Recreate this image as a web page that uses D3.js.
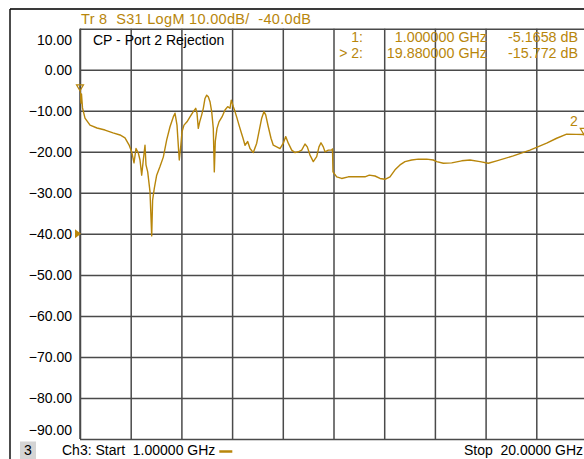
<!DOCTYPE html>
<html>
<head>
<meta charset="utf-8">
<script src="https://cdn.jsdelivr.net/npm/d3@7"></script>
<style>
  html, body { margin: 0; padding: 0; background: #fff; }
  svg { display: block; font-family: "Liberation Sans", Arial, sans-serif; }
  svg text { white-space: pre; }
</style>
</head>
<body>
<svg id="chart" width="584" height="459"></svg>
<script>
// S31 sweep, Ch3: 1 GHz .. 20 GHz, LogM 10 dB/div, ref -40 dB
const freqGHz = [
  1.000, 1.019, 1.037, 1.056, 1.094, 1.187, 1.375, 1.637, 1.937, 2.237,
  2.499, 2.686, 2.836, 2.937, 3.024, 3.099, 3.185, 3.249, 3.312, 3.372,
  3.436, 3.473, 3.537, 3.623, 3.687, 3.721, 3.784, 3.874, 3.998, 4.122,
  4.249, 4.373, 4.496, 4.560, 4.635, 4.699, 4.721, 4.774, 4.822, 4.897,
  5.010, 5.122, 5.246, 5.336, 5.385, 5.433, 5.486, 5.561, 5.621, 5.684,
  5.748, 5.808, 5.872, 5.935, 5.995, 6.033, 6.070, 6.134, 6.209, 6.321,
  6.434, 6.535, 6.621, 6.670, 6.745, 6.809, 6.884, 6.959, 7.034, 7.109,
  7.184, 7.285, 7.371, 7.495, 7.622, 7.708, 7.809, 7.895, 7.959, 8.056,
  8.158, 8.244, 8.371, 8.495, 8.619, 8.709, 8.806, 8.934, 9.057, 9.181,
  9.308, 9.432, 9.518, 9.619, 9.743, 9.870, 9.956, 10.031, 10.118, 10.181,
  10.305, 10.425, 10.462, 10.481, 10.620, 10.807, 11.055, 11.369, 11.680, 11.842,
  12.055, 12.243, 12.430, 12.617, 12.805, 12.992, 13.179, 13.430, 13.678, 13.992,
  14.240, 14.367, 14.615, 14.929, 15.304, 15.615, 15.990, 16.301, 16.616, 17.238,
  17.863, 18.489, 18.864, 19.238, 19.600, 19.880, 20.000
];
const s31dB = [
  -5.17, -6.4, -8.1, -5.9, -9.3, -11.8, -13.5, -14.2, -14.7, -15.4,
  -15.9, -16.6, -18.3, -20.0, -22.7, -19.2, -20.3, -22.0, -25.7, -22.0,
  -18.4, -23.2, -24.9, -29.7, -40.5, -31.8, -28.9, -25.7, -23.6, -21.3,
  -17.1, -13.9, -11.5, -10.6, -13.5, -20.0, -22.0, -18.8, -15.1, -13.5,
  -12.7, -11.5, -10.2, -9.4, -10.6, -14.3, -12.7, -11.0, -9.4, -7.0,
  -6.2, -6.6, -7.8, -10.2, -14.3, -24.9, -17.5, -14.3, -12.7, -11.5,
  -9.8, -9.0, -9.4, -7.4, -9.0, -10.2, -11.8, -13.5, -15.1, -16.7,
  -18.4, -17.5, -19.2, -20.2, -17.9, -15.1, -11.8, -10.2, -11.0, -13.9,
  -16.7, -18.4, -18.8, -19.2, -17.9, -16.3, -17.9, -19.6, -20.2, -20.0,
  -19.6, -18.1, -18.8, -20.8, -22.4, -21.2, -18.8, -17.8, -18.8, -20.0,
  -19.6, -19.6, -19.3, -24.9, -26.1, -26.5, -26.1, -26.1, -26.1, -25.7,
  -25.9, -26.5, -26.7, -26.1, -24.4, -23.2, -22.4, -22.0, -21.8, -21.8,
  -22.0, -22.4, -22.8, -22.7, -22.2, -22.0, -22.4, -22.8, -22.2, -21.0,
  -19.6, -17.9, -16.7, -15.7, -15.75, -15.772, -15.76
];

// Axis settings and annotation text
const yTicks = [10, 0, -10, -20, -30, -40, -50, -60, -70, -80, -90];
const xStart = 1, xStop = 20, xDivisions = 10;
const refLevel = -40;
const traceTitle = "Tr 8  S31 LogM 10.00dB/  -40.0dB";
const traceName = "CP - Port 2 Rejection";
const markerIds = ["1", "2"];
const markerFreq = [1.0, 19.88];
const markerDB = [-5.1658, -15.772];
const markerPrefix = ["1:", "> 2:"];
const markerFreqText = ["1.000000 GHz", "19.880000 GHz"];
const markerValText = ["-5.1658 dB", "-15.772 dB"];
const channelText = "Ch3: Start  1.00000 GHz";
const stopText = "Stop  20.0000 GHz";
const channelNum = "3";

const traceColor = "#B8860B";
const gridColor = "#4a4a4a";

const svg = d3.select("#chart");
const W = 584;
const plotL = 80, plotR = 587, plotT = 28.7, plotB = 439;

const x = d3.scaleLinear().domain([xStart, xStop]).range([plotL, plotR]);
const y = d3.scaleLinear().domain([-90, 10]).range([plotB, plotT]);

// outer frame
svg.append("line").attr("x1", 10).attr("x2", W).attr("y1", 9).attr("y2", 9)
  .attr("stroke", "#3a3a3a").attr("stroke-width", 2);
svg.append("line").attr("x1", 10).attr("x2", 10).attr("y1", 9).attr("y2", 459)
  .attr("stroke", "#111").attr("stroke-width", 1.5);

// grid: vertical divisions
const xGridVals = d3.range(xDivisions + 1).map(i => xStart + i * (xStop - xStart) / xDivisions);
const xGrid = svg.append("g").attr("transform", `translate(0,${plotB})`)
  .call(d3.axisBottom(x).tickValues(xGridVals).tickSize(-(plotB - plotT)).tickFormat(""));
xGrid.select(".domain").remove();
xGrid.selectAll(".tick line").attr("stroke", gridColor).attr("stroke-width", 1.5);

// grid: horizontal divisions with dB labels
const yAxis = svg.append("g").attr("transform", `translate(${plotL},0)`)
  .call(d3.axisLeft(y).tickValues(yTicks).tickSize(-(plotR - plotL)).tickPadding(8)
    .tickFormat(d3.format(".2f")));
yAxis.select(".domain").remove();
yAxis.selectAll(".tick line").attr("stroke", gridColor).attr("stroke-width", 1.5);
yAxis.selectAll(".tick text")
  .attr("fill", "#000").attr("font-size", 14)
  .attr("font-family", "Liberation Sans, Arial, sans-serif")
  .attr("x", -8)
  .attr("dy", d => d === 10 ? "1.1em" : d === -90 ? "-0.3em" : "0.35em");
svg.append("line").attr("x1", plotL).attr("x2", plotL).attr("y1", plotT).attr("y2", plotB)
  .attr("stroke", gridColor).attr("stroke-width", 1.5);

// reference level arrow
svg.append("path")
  .attr("d", `M${plotL - 5},${y(refLevel) - 4.5} L${plotL + 1},${y(refLevel)} L${plotL - 5},${y(refLevel) + 4.5} Z`)
  .attr("fill", traceColor);

// trace
svg.append("clipPath").attr("id", "plotClip").append("rect")
  .attr("x", plotL).attr("y", plotT).attr("width", plotR - plotL).attr("height", plotB - plotT);
const pts = freqGHz.map((f, i) => [f, s31dB[i]]);
svg.append("path").datum(pts)
  .attr("clip-path", "url(#plotClip)")
  .attr("fill", "none").attr("stroke", traceColor).attr("stroke-width", 1.4)
  .attr("stroke-linejoin", "round")
  .attr("d", d3.line().x(d => x(d[0])).y(d => y(d[1])));

// markers (label kept inside the visible area)
markerIds.forEach((id, i) => {
  const mx = x(markerFreq[i]), my = y(markerDB[i]);
  svg.append("path")
    .attr("d", `M${mx - 3.5},${my - 6} L${mx + 3.5},${my - 6} L${mx},${my} Z`)
    .attr("fill", "none").attr("stroke", traceColor).attr("stroke-width", 1.2);
  if (i === 1) {
    svg.append("text").attr("x", Math.min(mx, W - 10)).attr("y", my - 8).attr("text-anchor", "middle")
      .attr("font-size", 14).attr("fill", traceColor).text(id);
  }
});

// header text
svg.append("text").attr("x", 81).attr("y", 23.5).attr("font-size", 14.5)
  .attr("fill", traceColor).attr("textLength", 230).attr("lengthAdjust", "spacing")
  .text(traceTitle);
svg.append("text").attr("x", 93).attr("y", 45).attr("font-size", 14)
  .attr("fill", "#000").text(traceName);

// marker readout
const rowY = [41.5, 58];
markerPrefix.forEach((p, i) => {
  svg.append("text").attr("x", 363).attr("y", rowY[i]).attr("text-anchor", "end")
    .attr("font-size", 14).attr("fill", traceColor).text(p);
  svg.append("text").attr("x", 487).attr("y", rowY[i]).attr("text-anchor", "end")
    .attr("font-size", 14.3).attr("fill", traceColor).text(markerFreqText[i]);
  svg.append("text").attr("x", 578).attr("y", rowY[i]).attr("text-anchor", "end")
    .attr("font-size", 14.3).attr("fill", traceColor).text(markerValText[i]);
});

// footer
svg.append("rect").attr("x", 20).attr("y", 441.5).attr("width", 16).attr("height", 17.5)
  .attr("fill", "#d4d4d4");
svg.append("text").attr("x", 28).attr("y", 455).attr("text-anchor", "middle")
  .attr("font-size", 14).attr("fill", "#000").text(channelNum);
const chText = svg.append("text").attr("x", 62).attr("y", 455).attr("font-size", 14)
  .attr("fill", "#000").text(channelText);
const chEnd = 62 + chText.node().getComputedTextLength();
svg.append("line").attr("x1", chEnd + 4).attr("x2", chEnd + 17).attr("y1", 451.5).attr("y2", 451.5)
  .attr("stroke", traceColor).attr("stroke-width", 2.5);
svg.append("text").attr("x", 583).attr("y", 455).attr("text-anchor", "end")
  .attr("font-size", 14).attr("fill", "#000").text(stopText);
</script>
</body>
</html>
